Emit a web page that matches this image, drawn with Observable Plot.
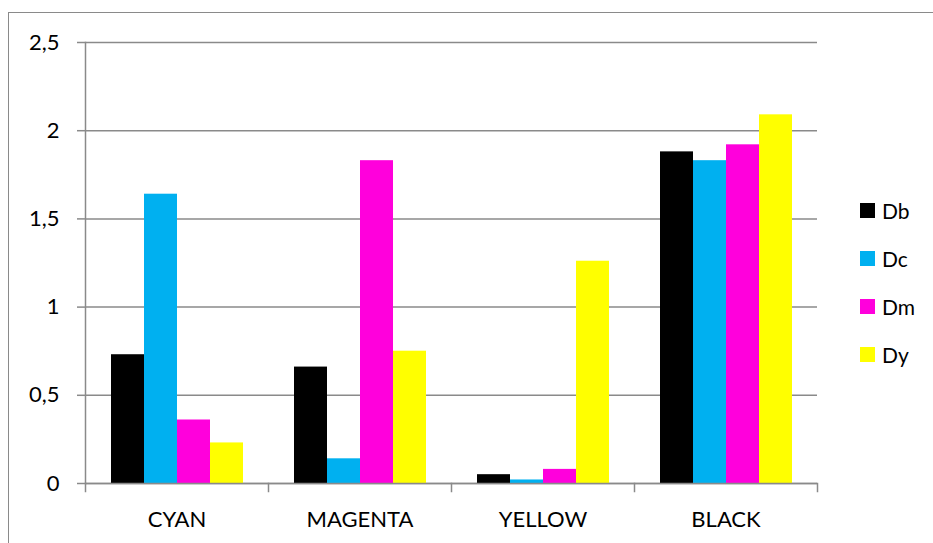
<!DOCTYPE html>
<html>
<head>
<meta charset="utf-8">
<script src="https://cdn.jsdelivr.net/npm/d3@7"></script>
<script src="https://cdn.jsdelivr.net/npm/@observablehq/plot@0.6"></script>
<style>
  html, body { margin: 0; padding: 0; background: #fff; overflow: hidden; }
  #wrap { position: relative; width: 933px; height: 543px; overflow: hidden; font-family: Lato, "Open Sans", sans-serif; }
  #border { position: absolute; left: 8px; top: 12px; width: 1200px; height: 1200px; border: 1.5px solid #8a8a8a; pointer-events: none; }
  #legend { position: absolute; left: 860px; top: 197px; display: flex; flex-direction: column; gap: 22px; font-size: 21px; color: #000; }
  #legend .item { display: flex; align-items: center; height: 26px; }
  #legend .sw { width: 15px; height: 15px; margin-right: 7px; }
</style>
</head>
<body>
<div id="wrap"><div id="chart"></div><div id="legend"></div><div id="border"></div></div>
<script>
const categories = ["CYAN", "MAGENTA", "YELLOW", "BLACK"];
const seriesNames = ["Db", "Dc", "Dm", "Dy"];
const Db = [0.73, 0.66, 0.05, 1.88];
const Dc = [1.64, 0.14, 0.02, 1.83];
const Dm = [0.36, 1.83, 0.08, 1.92];
const Dy = [0.23, 0.75, 1.26, 2.09];
const seriesColors = ["#000000", "#00B0F0", "#FF00DC", "#FFFF00"];
const yTicks = [0, 0.5, 1, 1.5, 2, 2.5];

const seriesValues = [Db, Dc, Dm, Dy];
const data = [];
categories.forEach((c, i) => seriesNames.forEach((s, j) => data.push({cat: c, series: s, value: seriesValues[j][i]})));

const W = 933, H = 543;
const mT = 42, mB = 60, mL = 85, mR = 116;
const innerH = H - mT - mB;
const gray = "#8a8a8a";

const chart = Plot.plot({
  width: W, height: H,
  marginTop: mT, marginBottom: mB, marginLeft: mL, marginRight: mR,
  style: {fontFamily: "Lato, 'Open Sans', sans-serif", fontSize: "22px", color: "#000", background: "transparent"},
  fx: {domain: categories, padding: 0, label: null},
  x: {domain: seriesNames, paddingInner: 0, paddingOuter: 0.75, axis: null},
  y: {domain: [0, 2.5], label: null},
  color: {domain: seriesNames, range: seriesColors},
  marks: [
    Plot.gridY(yTicks, {stroke: gray, strokeOpacity: 1, strokeWidth: 1.5}),
    Plot.barY(data, {fx: "cat", x: "series", y: "value", fill: "series"}),
    Plot.ruleY([0], {stroke: gray, strokeWidth: 1.5}),
    Plot.frame({anchor: "left", facetAnchor: "left", stroke: gray, strokeWidth: 1.5}),
    Plot.frame({anchor: "left", insetTop: innerH, insetBottom: -8, stroke: gray, strokeWidth: 1.5}),
    Plot.frame({anchor: "right", facetAnchor: "right", insetTop: innerH, insetBottom: -8, stroke: gray, strokeWidth: 1.5}),
    Plot.axisY(yTicks, {tickSize: 8, tickPadding: 18, stroke: gray, strokeWidth: 1.5, label: null,
      tickFormat: d => String(d).replace(".", ","), fill: "#000"}),
    Plot.axisFx({anchor: "bottom", tickSize: 0, tickPadding: 28, label: null, fill: "#000"})
  ]
});
document.getElementById("chart").appendChild(chart);

const legend = document.getElementById("legend");
seriesNames.forEach((s, i) => {
  const item = document.createElement("div");
  item.className = "item";
  const sw = document.createElement("span");
  sw.className = "sw";
  sw.style.background = seriesColors[i];
  const t = document.createElement("span");
  t.textContent = s;
  item.appendChild(sw); item.appendChild(t);
  legend.appendChild(item);
});
</script>
</body>
</html>
